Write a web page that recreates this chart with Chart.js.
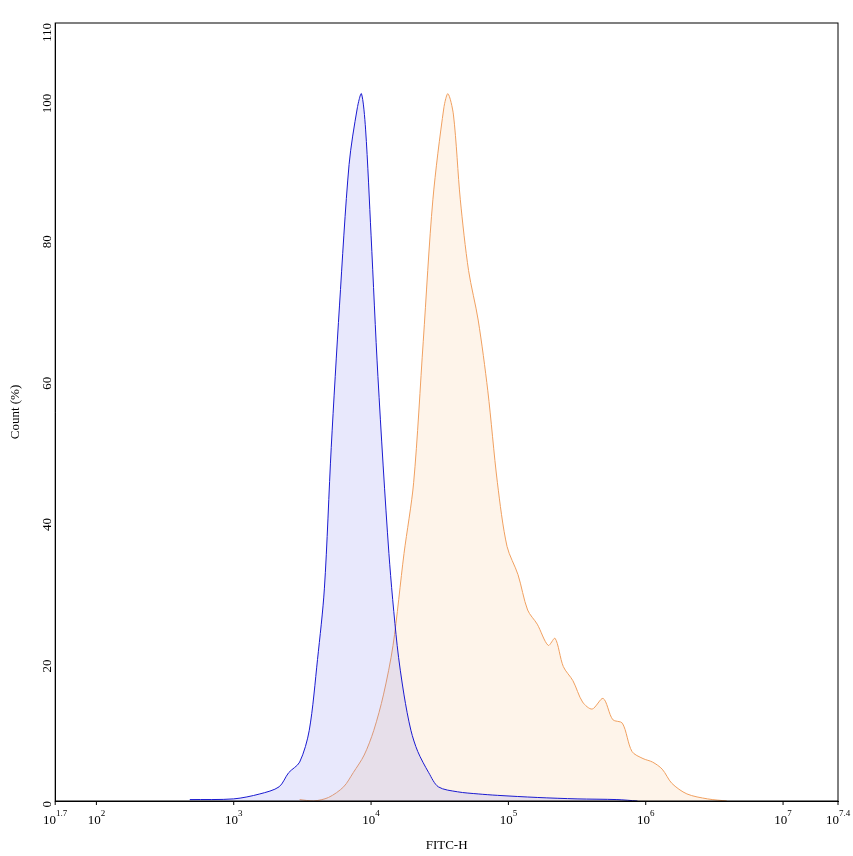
<!DOCTYPE html>
<html>
<head>
<script src="https://cdn.jsdelivr.net/npm/chart.js@4"></script>
<style>body{margin:0;background:#fff}#wrap{width:853px;height:856px}</style>
</head>
<body>
<div id="wrap"><canvas id="c"></canvas></div>
<script>
// log10(FITC-H) vs Count (%)
const blueX = [2.68,3.0,3.19,3.33,3.40,3.48,3.55,3.61,3.66,3.71,3.77,3.84,3.90,3.93,3.96,4.0,4.05,4.13,4.19,4.24,4.29,4.34,4.42,4.49,4.63,4.78,4.92,5.21,5.50,5.79,5.94];
const blueY = [0.2,0.3,1,2,4,5.5,10,20,30,50,70,90,98,100,95,80,60,35,22,15,10,7,4,2,1.3,1,0.8,0.5,0.3,0.2,0];
const orangeX = [3.48,3.58,3.69,3.80,3.87,3.95,4.02,4.09,4.16,4.24,4.31,4.38,4.45,4.53,4.56,4.60,4.65,4.71,4.78,4.85,4.92,4.99,5.07,5.14,5.21,5.29,5.34,5.40,5.47,5.54,5.61,5.69,5.76,5.83,5.90,5.98,6.05,6.12,6.19,6.30,6.45,6.59];
const orangeY = [0.2,0,0.5,2,4,6.5,10,15,22,35,45,65,85,98,100,97,85,75,68,58,45,36,32,27,25,22,23,19,17,14,13,14.5,11.5,11,7,6,5.5,4.5,2.5,1,0.3,0];
const xTicks = [1.7,2,3,4,5,6,7,7.4];
const yTicks = [0,20,40,60,80,100,110];

const pts = (xs, ys) => xs.map((x, i) => ({x: x, y: ys[i]}));
const font = "Liberation Serif";

const xLabels = {
  id: 'xLabels',
  afterDraw(chart) {
    const ctx = chart.ctx, sx = chart.scales.x, bottom = chart.chartArea.bottom;
    ctx.save();
    ctx.fillStyle = '#000';
    xTicks.forEach(t => {
      const px = sx.getPixelForValue(t);
      const exp = String(t);
      ctx.font = '13px ' + font;
      const bw = ctx.measureText('10').width;
      ctx.font = '9px ' + font;
      const ew = ctx.measureText(exp).width;
      let x0 = px - (bw + ew) / 2;
      if (t === 7.4) x0 = Math.min(x0, chart.width - bw - ew - 2);
      ctx.font = '13px ' + font;
      ctx.textBaseline = 'alphabetic';
      ctx.fillText('10', x0, bottom + 23);
      ctx.font = '9px ' + font;
      ctx.fillText(exp, x0 + bw, bottom + 15);
      ctx.strokeStyle = '#000';
      ctx.beginPath(); ctx.moveTo(px, bottom); ctx.lineTo(px, bottom + 4); ctx.stroke();
    });
    ctx.font = '13px ' + font;
    ctx.textAlign = 'center';
    ctx.fillText('FITC-H', (chart.chartArea.left + chart.chartArea.right) / 2, bottom + 48);
    ctx.restore();
  }
};

new Chart(document.getElementById('c'), {
  type: 'scatter',
  data: {
    datasets: [
      {data: pts(blueX, blueY), showLine: true, borderColor: '#1a1ad0', borderWidth: 1, backgroundColor: 'rgba(120,120,240,0.17)', fill: 'origin', pointRadius: 0, tension: 0.3},
      {data: pts(orangeX, orangeY), showLine: true, borderColor: '#f0a060', borderWidth: 1, backgroundColor: 'rgba(250,200,150,0.2)', fill: 'origin', pointRadius: 0, tension: 0.3}
    ]
  },
  options: {
    responsive: true, maintainAspectRatio: false, animation: false,
    layout: {padding: {top: 23, right: 15, bottom: 55, left: 4}},
    plugins: {legend: {display: false}, tooltip: {enabled: false}},
    scales: {
      x: {type: 'linear', min: 1.7, max: 7.4, grid: {display: false, drawTicks: false}, border: {color: '#000'},
          ticks: {display: false}},
      y: {min: 0, max: 110, afterBuildTicks: s => { s.ticks = yTicks.map(v => ({value: v})); },
          grid: {display: false, tickLength: 4, tickColor: '#000'}, border: {color: '#000'},
          ticks: {color: '#000', font: {family: font, size: 13}, minRotation: 90, maxRotation: 90, padding: 4},
          title: {display: true, text: 'Count (%)', color: '#000', font: {family: font, size: 13}}}
    }
  },
  plugins: [xLabels, {
    id: 'frame',
    afterDraw(chart) {
      const {ctx, chartArea: a} = chart;
      ctx.save(); ctx.strokeStyle = '#000'; ctx.lineWidth = 1;
      ctx.strokeRect(a.left, a.top, a.right - a.left, a.bottom - a.top);
      ctx.restore();
    }
  }]
});
</script>
</body>
</html>
